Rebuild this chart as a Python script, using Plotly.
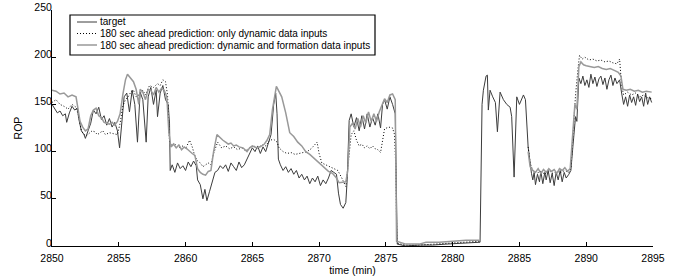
import plotly.graph_objects as go

# ---- data ----
t_target = [2850.0, 2850.2, 2850.4, 2850.6, 2850.8, 2851.0, 2851.1, 2851.3, 2851.5, 2851.7, 2851.9,
            2852.0, 2852.2, 2852.4, 2852.5, 2852.7, 2852.9, 2853.1, 2853.3, 2853.5, 2853.7, 2853.9,
            2854.1, 2854.3, 2854.5, 2854.7, 2854.9, 2855.06, 2855.2, 2855.4, 2855.6, 2855.8, 2856.0,
            2856.2, 2856.4, 2856.6, 2856.8, 2857.05, 2857.2, 2857.4, 2857.6, 2857.8, 2857.9, 2858.1,
            2858.3, 2858.5, 2858.7, 2858.8, 2858.85, 2859.0, 2859.2, 2859.4, 2859.6, 2859.8, 2860.0,
            2860.2, 2860.4, 2860.6, 2860.8, 2860.9, 2861.1, 2861.3, 2861.45, 2861.6, 2861.8, 2862.0,
            2862.2, 2862.4, 2862.6, 2862.8, 2863.0, 2863.2, 2863.4, 2863.6, 2863.8, 2864.0, 2864.2,
            2864.4, 2864.6, 2864.8, 2865.0, 2865.2, 2865.4, 2865.6, 2865.8, 2866.0, 2866.2, 2866.4,
            2866.6, 2866.75, 2866.85, 2866.95, 2867.1, 2867.3, 2867.5, 2867.7, 2867.9, 2868.1, 2868.3,
            2868.5, 2868.7, 2868.9, 2869.1, 2869.3, 2869.5, 2869.7, 2869.9, 2870.1, 2870.3, 2870.5,
            2870.7, 2870.9, 2871.1, 2871.3, 2871.45, 2871.6, 2871.8, 2872.0, 2872.1, 2872.25, 2872.4,
            2872.6, 2872.8, 2873.0, 2873.2, 2873.4, 2873.6, 2873.8, 2874.0, 2874.2, 2874.4, 2874.6,
            2874.75, 2874.9, 2875.1, 2875.3, 2875.5, 2875.7, 2875.85, 2876.5, 2877.5, 2878.5, 2879.5,
            2880.5, 2881.5, 2882.05, 2882.2, 2882.3, 2882.5, 2882.6, 2882.67, 2882.8, 2883.0, 2883.2,
            2883.35, 2883.55, 2883.8, 2884.05, 2884.3, 2884.42, 2884.6, 2884.8, 2885.0, 2885.3,
            2885.45, 2885.65, 2885.9, 2886.0, 2886.1, 2886.2, 2886.35, 2886.5, 2886.6, 2886.75,
            2886.9, 2887.0, 2887.15, 2887.3, 2887.45, 2887.6, 2887.75, 2887.9, 2888.05, 2888.2,
            2888.35, 2888.5, 2888.7, 2888.85, 2889.0, 2889.2, 2889.3, 2889.45, 2889.6, 2889.75,
            2889.9, 2890.05, 2890.2, 2890.35, 2890.5, 2890.65, 2890.8, 2890.95, 2891.1, 2891.25,
            2891.4, 2891.55, 2891.7, 2891.85, 2892.0, 2892.15, 2892.3, 2892.5, 2892.65, 2892.8,
            2892.95, 2893.1, 2893.25, 2893.4, 2893.55, 2893.7, 2893.85, 2894.0, 2894.15, 2894.3,
            2894.45, 2894.6, 2894.75, 2894.9]
rop_target = [150, 146, 141, 143, 138, 140, 131, 141, 148, 144, 146,
              135, 122, 118, 114, 122, 130, 144, 140, 147, 134, 138,
              128, 135, 126, 131, 122, 104, 130, 158, 162, 142, 165,
              150, 110, 163, 155, 110, 158, 168, 150, 165, 137, 162,
              170, 155, 150, 130, 80, 86, 78, 88, 82, 85, 80,
              89, 84, 90, 85, 70, 65, 50, 60, 48, 58, 68,
              78, 80, 85, 82, 86, 79, 88, 84, 80, 89, 83,
              86, 92, 98, 104, 100, 106, 98, 105, 100, 110, 118,
              150, 162, 140, 92, 86, 80, 84, 78, 82, 76, 80,
              72, 76, 70, 74, 66, 72, 68, 74, 64, 70, 66,
              72, 80, 78, 76, 56, 44, 40, 46, 70, 133, 140,
              126, 136, 122, 138, 124, 140, 126, 136, 128, 140, 125,
              150, 155, 145, 158, 150, 140, 2, 0, 1, 1, 2,
              3, 4, 4, 150, 165, 180, 181, 144, 165, 158, 152,
              121, 163, 155, 150, 147, 137, 73, 158, 150, 160,
              155, 105, 77, 70, 78, 65, 76, 68, 79, 66,
              78, 70, 80, 67, 77, 64, 78, 70, 80, 68,
              78, 72, 76, 80, 105, 137, 132, 178, 172, 180,
              170, 176, 168, 182, 172, 179, 169, 177, 180, 171,
              178, 166, 176, 181, 170, 178, 172, 176, 162, 150,
              158, 148, 160, 152, 158, 149, 161, 153, 158, 148,
              162, 150, 158, 152]

t_dyn = [2850.0, 2850.3, 2850.6, 2850.9, 2851.2, 2851.5, 2851.8, 2852.0, 2852.2, 2852.4, 2852.6,
         2852.8, 2853.0, 2853.2, 2853.4, 2853.6, 2853.8, 2854.0, 2854.3, 2854.6, 2854.9, 2855.1,
         2855.3, 2855.5, 2855.7, 2855.9, 2856.1, 2856.3, 2856.5, 2856.8, 2857.0, 2857.3, 2857.6,
         2857.9, 2858.1, 2858.3, 2858.5, 2858.65, 2858.8, 2859.0, 2859.2, 2859.5, 2859.8, 2860.0,
         2860.3, 2860.5, 2860.7, 2860.9, 2861.1, 2861.3, 2861.5, 2861.7, 2861.9, 2862.1, 2862.4,
         2862.7, 2863.0, 2863.3, 2863.6, 2863.9, 2864.2, 2864.5, 2864.8, 2865.1, 2865.4, 2865.7,
         2866.0, 2866.3, 2866.6, 2866.85, 2867.0, 2867.3, 2867.6, 2867.9, 2868.2, 2868.5, 2868.8,
         2869.1, 2869.4, 2869.7, 2869.85, 2870.0, 2870.2, 2870.5, 2870.8, 2871.1, 2871.4, 2871.7,
         2872.0, 2872.2, 2872.4, 2872.6, 2872.8, 2873.0, 2873.2, 2873.4, 2873.6, 2873.8, 2874.0,
         2874.2, 2874.4, 2874.6, 2874.75, 2874.9, 2875.2, 2875.5, 2875.65, 2875.75, 2875.82,
         2876.5, 2877.5, 2878.5, 2879.5, 2880.5, 2881.5, 2882.0, 2884.0,
         2885.65, 2885.8, 2886.0, 2886.3, 2886.6, 2886.9, 2887.2, 2887.5, 2887.8, 2888.1, 2888.4,
         2888.7, 2888.85, 2889.0, 2889.2, 2889.4, 2889.5, 2889.7, 2889.9, 2890.2, 2890.5, 2890.8,
         2891.1, 2891.4, 2891.7, 2892.0, 2892.3, 2892.5, 2892.65, 2892.8, 2893.1, 2893.4, 2893.7,
         2894.0, 2894.3, 2894.6, 2894.9]
rop_dyn = [152, 155, 150, 148, 145, 150, 147, 138, 122, 118, 117,
           120, 122, 121, 118, 120, 122, 118, 120, 119, 118, 130,
           148, 155, 158, 163, 165, 158, 160, 165, 160, 170, 168,
           172, 170, 176, 174, 160, 110, 106, 108, 104, 106, 103,
           112, 105, 95, 90, 88, 84, 86, 88, 86, 98, 110,
           104, 106, 103, 105, 102, 104, 101, 104, 106, 104, 107,
           106, 112, 113, 110, 104, 100, 98, 99, 97, 98, 99,
           100, 103, 107, 110, 98, 88, 86, 84, 82, 80, 72,
           63, 90, 118, 122, 112, 106, 108, 104, 106, 103, 106,
           103, 102, 99, 112, 124, 126, 125, 118, 80, 3,
           1, 1, 2, 3, 4, 5, 5, None,
           105, 88, 80, 77, 79, 76, 80, 77, 79, 78, 80,
           78, 82, 120, 160, 190, 202, 198, 200, 197, 198, 196,
           197, 195, 196, 194, 193, 198, 170, 160, 163, 160, 162,
           158, 160, 157, 156]

t_form = [2850.0, 2850.3, 2850.6, 2850.9, 2851.2, 2851.5, 2851.8, 2851.95, 2852.1, 2852.3, 2852.5,
          2852.7, 2852.9, 2853.1, 2853.3, 2853.5, 2853.7, 2853.9, 2854.1, 2854.3, 2854.5, 2854.7,
          2854.9, 2855.1, 2855.3, 2855.5, 2855.65, 2855.85, 2856.1, 2856.3, 2856.5, 2856.6, 2856.8,
          2857.0, 2857.2, 2857.4, 2857.6, 2857.8, 2858.0, 2858.2, 2858.4, 2858.6, 2858.75, 2858.9,
          2859.1, 2859.3, 2859.5, 2859.7, 2859.9, 2860.1, 2860.3, 2860.5, 2860.7, 2860.9, 2861.1,
          2861.3, 2861.5, 2861.7, 2861.9, 2862.1, 2862.35, 2862.6, 2862.8, 2863.0, 2863.2, 2863.4,
          2863.6, 2863.8, 2864.0, 2864.3, 2864.6, 2864.8, 2865.0, 2865.3, 2865.6, 2865.9, 2866.1,
          2866.3, 2866.5, 2866.8, 2867.0, 2867.2, 2867.5, 2867.8, 2868.1, 2868.4, 2868.7, 2869.0,
          2869.3, 2869.6, 2869.8, 2870.1, 2870.4, 2870.7, 2871.0, 2871.3, 2871.5, 2871.8, 2872.0,
          2872.15, 2872.3, 2872.5, 2872.7, 2872.9, 2873.1, 2873.3, 2873.5, 2873.7, 2873.9, 2874.1,
          2874.3, 2874.5, 2874.7, 2874.9, 2875.1, 2875.3, 2875.5, 2875.7, 2875.8,
          2876.5, 2877.5, 2878.0, 2879.0, 2880.0, 2881.0, 2882.0, 2884.0,
          2885.65, 2885.8, 2886.0, 2886.2, 2886.4, 2886.6, 2886.8, 2887.0, 2887.2, 2887.4, 2887.6,
          2887.8, 2888.0, 2888.2, 2888.4, 2888.6, 2888.8, 2888.95, 2889.15, 2889.3, 2889.45, 2889.6,
          2889.8, 2890.0, 2890.3, 2890.6, 2890.9, 2891.2, 2891.5, 2891.8, 2892.1, 2892.4, 2892.6,
          2892.75, 2893.0, 2893.3, 2893.6, 2893.9, 2894.2, 2894.5, 2894.9]
rop_form = [165, 164, 161, 162, 158, 160, 158, 145, 132, 126, 122,
            124, 138, 144, 146, 138, 136, 131, 130, 129, 131, 128,
            132, 140, 160, 176, 182, 178, 174, 166, 150, 166, 163,
            155, 166, 165, 160, 168, 163, 167, 165, 158, 120, 105,
            108, 104, 107, 102, 105, 103, 100, 98, 96, 82, 78,
            76, 75, 79, 80, 100, 118, 114, 112, 110, 108, 109,
            106, 107, 105, 104, 100, 104, 106, 104, 105, 108, 112,
            118, 144, 169, 164, 158, 141, 120, 116, 110, 106, 100,
            97, 93, 91, 86, 82, 79, 77, 72, 67, 68, 68,
            80, 126, 130, 124, 135, 126, 138, 130, 142, 132, 140,
            132, 142, 150, 156, 152, 160, 161, 155, 5,
            2, 2, 4, 4, 5, 6, 6, None,
            100, 84, 80, 78, 82, 77, 81, 78, 82, 79, 81,
            77, 82, 80, 83, 79, 82, 110, 150, 145, 190, 195,
            192, 191, 190, 189, 190, 188, 187, 188, 186, 184, 180,
            166, 165, 166, 164, 165, 163, 164, 163]

names = ["target",
         "180 sec ahead prediction: only dynamic data inputs",
         "180 sec ahead prediction: dynamic and formation data inputs"]
x_ticks = [2850, 2855, 2860, 2865, 2870, 2875, 2880, 2885, 2890, 2895]
y_ticks = [0, 50, 100, 150, 200, 250]

FONT = "Liberation Sans, Arial, sans-serif"
FS = 10.5
LFS = 10
W, H = 681, 279
ML, MR, MT, MB = 52, 28, 10, 33
PW, PH = W - ML - MR, H - MT - MB

styles = [dict(color="#3c3c3c", width=1),
          dict(color="#000000", width=1, dash="1px,2px"),
          dict(color="#999999", width=1.5)]

fig = go.Figure()
for tx, ty, nm, st in zip([t_target, t_dyn, t_form], [rop_target, rop_dyn, rop_form], names, styles):
    fig.add_trace(go.Scatter(x=tx, y=ty, mode="lines", name=nm, line=st, showlegend=False))


def px(x):
    return (x - ML) / PW


def py(y):
    return (MT + PH - y) / PH


# legend box (drawn in paper coordinates)
shapes = [dict(type="rect", xref="paper", yref="paper", x0=px(70), x1=px(375), y0=py(55), y1=py(15),
               line=dict(color="black", width=1.2), fillcolor="white", layer="above")]
annotations = []
rows = [22.0, 33.5, 45.0]
for nm, st, ry in zip(names, styles, rows):
    shapes.append(dict(type="line", xref="paper", yref="paper", x0=px(77), x1=px(97),
                       y0=py(ry), y1=py(ry), line=st, layer="above"))
    annotations.append(dict(xref="paper", yref="paper", x=px(99), y=py(ry), text=nm,
                            showarrow=False, xanchor="left", yanchor="middle", borderpad=0,
                            font=dict(size=LFS, family=FONT, color="black")))

fig.update_layout(
    width=W, height=H,
    margin=dict(l=ML, r=MR, t=MT, b=MB, autoexpand=False),
    paper_bgcolor="white", plot_bgcolor="white",
    font=dict(family=FONT, size=FS, color="black"),
    showlegend=False,
    shapes=shapes, annotations=annotations,
)
fig.update_xaxes(range=[2850, 2895], tickvals=x_ticks, ticks="inside", ticklen=4,
                 tickcolor="black", showline=True, linecolor="black", linewidth=1,
                 showgrid=False, zeroline=False, mirror=False, ticklabelstandoff=2,
                 automargin=False,
                 title=dict(text="time (min)", font=dict(size=FS), standoff=2))
fig.update_yaxes(range=[0, 250], tickvals=y_ticks, ticks="inside", ticklen=4,
                 tickcolor="black", showline=True, linecolor="black", linewidth=1,
                 showgrid=False, zeroline=False, mirror=False, ticklabelstandoff=-3,
                 ticklabelshift=-3, automargin=False,
                 title=dict(text="ROP", font=dict(size=FS), standoff=9))

fig.write_html("out.html", config={"displayModeBar": False},
               post_script="document.body.style.margin='0';document.body.style.padding='0';")
